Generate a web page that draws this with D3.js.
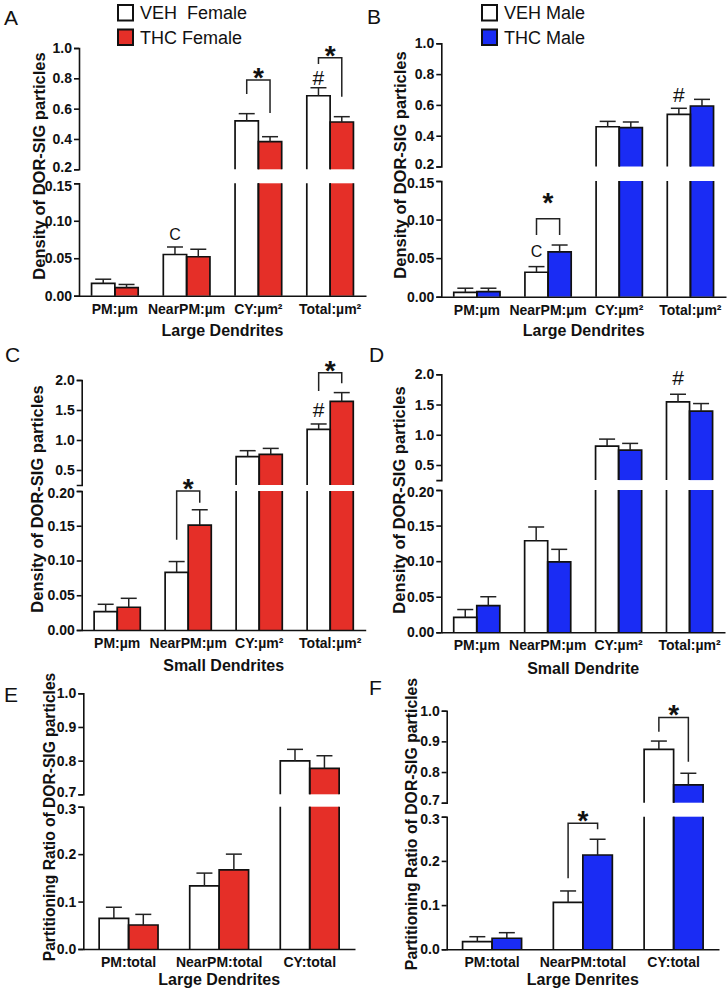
<!DOCTYPE html>
<html><head><meta charset="utf-8">
<script src="https://cdn.jsdelivr.net/npm/d3@7"></script>
<style>
body{margin:0;background:#fff;}
svg{display:block;font-family:"Liberation Sans",Arial,Helvetica,sans-serif;}
</style></head><body>
<svg id="fig" width="728" height="992"></svg>
<script>
// ---------------- DATA ----------------
const catsDensity = ["PM:µm", "NearPM:µm", "CY:µm²", "Total:µm²"];
const catsRatio = ["PM:total", "NearPM:total", "CY:total"];
const series = ["VEH", "THC"];
const legendFemale = ["VEH  Female", "THC Female"];
const legendMale = ["VEH Male", "THC Male"];

// A: Female, large dendrites (density)
const vehA = [0.0165, 0.055, 0.52, 0.685];
const vehAErr = [0.0055, 0.010, 0.047, 0.053];
const thcA = [0.0107, 0.052, 0.382, 0.512];
const thcAErr = [0.0043, 0.010, 0.033, 0.035];
// B: Male, large dendrites (density)
const vehB = [0.0057, 0.0317, 0.458, 0.539];
const vehBErr = [0.0053, 0.0073, 0.035, 0.039];
const thcB = [0.0065, 0.058, 0.452, 0.593];
const thcBErr = [0.0045, 0.009, 0.037, 0.043];
// C: Female, small dendrites (density)
const vehC = [0.0264, 0.083, 0.722, 1.178];
const vehCErr = [0.0106, 0.0155, 0.10, 0.089];
const thcC = [0.0327, 0.151, 0.76, 1.645];
const thcCErr = [0.0129, 0.022, 0.10, 0.145];
// D: Male, small dendrite (density)
const vehD = [0.021, 0.1287, 0.813, 1.543];
const vehDErr = [0.011, 0.0193, 0.115, 0.127];
const thcD = [0.0374, 0.099, 0.747, 1.39];
const thcDErr = [0.0126, 0.0176, 0.11, 0.126];
// E: Female, partitioning ratio
const vehE = [0.0647, 0.133, 0.799];
const vehEErr = [0.0233, 0.027, 0.0345];
const thcE = [0.0506, 0.1667, 0.777];
const thcEErr = [0.0224, 0.0333, 0.0375];
// F: Male, partitioning ratio
const vehF = [0.0172, 0.106, 0.874];
const vehFErr = [0.0113, 0.026, 0.027];
const thcF = [0.025, 0.2133, 0.758];
const thcFErr = [0.0126, 0.0357, 0.038];

// Axis ticks (broken axes: lower and upper segments)
const ticksLargeLower = [0, 0.05, 0.10, 0.15];
const ticksLargeUpper = [0.2, 0.4, 0.6, 0.8, 1.0];
const ticksSmallLower = [0, 0.05, 0.10, 0.15, 0.20];
const ticksSmallUpper = [0.5, 1.0, 1.5, 2.0];
const ticksRatioLower = [0, 0.1, 0.2, 0.3];
const ticksRatioUpper = [0.7, 0.8, 0.9, 1.0];

// Annotations (values in data units)
const bracketsA = [{cat: "CY:µm²", top: 0.789, left: 0.697, right: 0.571},
                   {cat: "Total:µm²", top: 0.936, left: 0.894, right: 0.679}];
const hashA = [{cat: "Total:µm²", s: "VEH", v: 0.753}];
const cA = [{cat: "NearPM:µm", s: "VEH", v: 0.0743}];
const bracketsB = [{cat: "NearPM:µm", top: 0.101, left: 0.080, right: 0.080, star: 0.131}];
const hashB = [{cat: "Total:µm²", s: "VEH", v: 0.622}];
const cB = [{cat: "NearPM:µm", s: "VEH", v: 0.052}];
const bracketsC = [{cat: "NearPM:µm", top: 0.2, left: 0.1297, right: 0.183},
                   {cat: "Total:µm²", top: 2.12, left: 1.817, right: 1.945}];
const hashC = [{cat: "Total:µm²", s: "VEH", v: 1.383}];
const hashD = [{cat: "Total:µm²", s: "VEH", v: 1.818}];
const bracketsF = [{cat: "NearPM:total", top: 0.285, left: 0.1606, right: 0.2715},
                   {cat: "CY:total", top: 0.978, left: 0.931, right: 0.8335}];

// ---------------- STYLE / LAYOUT ----------------
const RED = "#e52f28";
const BLUE = "#1a2cf4";
const INK = "#111";

const panels = [
  {letter: "A", lx: 4, ly: 25, cats: catsDensity, veh: vehA, vehErr: vehAErr, thc: thcA, thcErr: thcAErr, color: RED,
   x0: 79, x1: 366, lowDom: [0, 0.15], lowRange: [295.7, 183.3], upDom: [0.2, 1.0], upRange: [169.3, 48],
   lowTicks: ticksLargeLower, upTicks: ticksLargeUpper, lowFmt: ".2f", upFmt: ".1f",
   yTitle: "Density of DOR-SIG particles", ytx: 45, yty: 166, yts: 16.5,
   xTitle: "Large Dendrites", xty: 336, brackets: bracketsA, hashes: hashA, cs: cA,
   legend: legendFemale, legX: 118},
  {letter: "B", lx: 367, ly: 24, cats: catsDensity, veh: vehB, vehErr: vehBErr, thc: thcB, thcErr: thcBErr, color: BLUE,
   x0: 441.3, x1: 726, lowDom: [0, 0.15], lowRange: [296.7, 181], upDom: [0.2, 1.0], upRange: [166.5, 43.3],
   lowTicks: ticksLargeLower, upTicks: ticksLargeUpper, lowFmt: ".2f", upFmt: ".1f",
   yTitle: "Density of DOR-SIG particles", ytx: 406, yty: 165, yts: 16.5,
   xTitle: "Large Dendrites", xty: 336, brackets: bracketsB, hashes: hashB, cs: cB,
   legend: legendMale, legX: 482},
  {letter: "C", lx: 5, ly: 362, cats: catsDensity, veh: vehC, vehErr: vehCErr, thc: thcC, thcErr: thcCErr, color: RED,
   x0: 81.7, x1: 365.7, lowDom: [0, 0.2], lowRange: [630, 491], upDom: [0.25, 2.0], upRange: [485, 380],
   lowTicks: ticksSmallLower, upTicks: ticksSmallUpper, lowFmt: ".2f", upFmt: ".1f",
   yTitle: "Density of DOR-SIG particles", ytx: 43, yty: 499, yts: 16.5,
   xTitle: "Small Dendrites", xty: 671, brackets: bracketsC, hashes: hashC, cs: []},
  {letter: "D", lx: 369, ly: 362, cats: catsDensity, veh: vehD, vehErr: vehDErr, thc: thcD, thcErr: thcDErr, color: BLUE,
   x0: 441.3, x1: 725, lowDom: [0, 0.2], lowRange: [632.3, 490], upDom: [0.25, 2.0], upRange: [480.1, 374.3],
   lowTicks: ticksSmallLower, upTicks: ticksSmallUpper, lowFmt: ".2f", upFmt: ".1f",
   yTitle: "Density of DOR-SIG particles", ytx: 404.7, yty: 500, yts: 16.5,
   xTitle: "Small Dendrite", xty: 674, brackets: [], hashes: hashD, cs: []},
  {letter: "E", lx: 4, ly: 702, cats: catsRatio, veh: vehE, vehErr: vehEErr, thc: thcE, thcErr: thcEErr, color: RED,
   x0: 83.3, x1: 355, lowDom: [0, 0.3], lowRange: [949, 806.7], upDom: [0.7, 1.0], upRange: [794.3, 693.3],
   lowTicks: ticksRatioLower, upTicks: ticksRatioUpper, lowFmt: ".1f", upFmt: ".1f",
   yTitle: "Partitioning Ratio of DOR-SIG particles", ytx: 54.5, yty: 817, yts: 15.6,
   xTitle: "Large Dendrites", xty: 985, brackets: [], hashes: [], cs: []},
  {letter: "F", lx: 369, ly: 695, cats: catsRatio, veh: vehF, vehErr: vehFErr, thc: thcF, thcErr: thcFErr, color: BLUE,
   x0: 446.7, x1: 719, lowDom: [0, 0.3], lowRange: [949.3, 816.7], upDom: [0.7, 1.0], upRange: [802.7, 710.7],
   lowTicks: ticksRatioLower, upTicks: ticksRatioUpper, lowFmt: ".1f", upFmt: ".1f",
   yTitle: "Partitioning Ratio of DOR-SIG particles", ytx: 416.7, yty: 824, yts: 15.8,
   xTitle: "Large Denrites", xty: 985, brackets: bracketsF, hashes: [], cs: []}
];

const svg = d3.select("#fig");

function drawPanel(p) {
  const g = svg.append("g");
  const x = d3.scaleBand().domain(p.cats).range([p.x0, p.x1]).paddingInner(0.35).paddingOuter(0.175);
  const xs = d3.scaleBand().domain(series).range([0, x.bandwidth()]);
  const low = d3.scaleLinear().domain(p.lowDom).range(p.lowRange);
  const up = d3.scaleLinear().domain(p.upDom).range(p.upRange);
  const lowMax = p.lowDom[1], upMin = p.upDom[0];
  const y = v => v <= lowMax ? low(v) : up(v);
  const fillOf = s => s === "VEH" ? "#fff" : p.color;
  const cx = (c, s) => x(c) + xs(s) + xs.bandwidth() / 2;

  const rows = p.cats.flatMap((c, i) => [
    {c, s: "VEH", v: p.veh[i], e: p.vehErr[i]},
    {c, s: "THC", v: p.thc[i], e: p.thcErr[i]}
  ]);
  const segs = [];
  rows.forEach(r => {
    if (r.v <= lowMax) segs.push({r, y0: low(0), y1: low(r.v), top: true});
    else {
      segs.push({r, y0: low(0), y1: low(lowMax), top: false});
      segs.push({r, y0: up(upMin), y1: up(r.v), top: true});
    }
  });
  const w = xs.bandwidth();
  g.selectAll("rect.bar").data(segs).join("rect").attr("class", "bar")
    .attr("x", d => x(d.r.c) + xs(d.r.s)).attr("width", w)
    .attr("y", d => d.y1).attr("height", d => d.y0 - d.y1)
    .attr("fill", d => fillOf(d.r.s));
  g.selectAll("path.outline").data(segs).join("path").attr("class", "outline")
    .attr("d", d => {
      const bx = x(d.r.c) + xs(d.r.s);
      return `M${bx},${d.y0}V${d.y1}` + (d.top ? `H${bx + w}` : `M${bx + w},${d.y1}`) + `V${d.y0}`;
    })
    .attr("fill", "none").attr("stroke", INK).attr("stroke-width", 1.7);

  // error bars (upper whisker only)
  const eb = g.selectAll("g.err").data(rows).join("g").attr("class", "err")
    .attr("stroke", "#222").attr("stroke-width", 1.5);
  eb.append("line").attr("x1", d => cx(d.c, d.s)).attr("x2", d => cx(d.c, d.s))
    .attr("y1", d => y(d.v)).attr("y2", d => y(d.v + d.e));
  eb.append("line").attr("x1", d => cx(d.c, d.s) - 8).attr("x2", d => cx(d.c, d.s) + 8)
    .attr("y1", d => y(d.v + d.e)).attr("y2", d => y(d.v + d.e));

  // axes
  const styleAxis = sel => {
    sel.selectAll(".domain").attr("stroke", INK).attr("stroke-width", 1.6);
    sel.selectAll(".tick line").attr("stroke", INK).attr("stroke-width", 1.6);
    sel.selectAll("text").attr("font-size", 14).attr("font-weight", "bold").attr("fill", INK)
      .attr("font-family", "'Liberation Sans',Arial,sans-serif");
  };
  const close = (p.lowRange[1] - p.upRange[0]) < 17;
  g.append("g").attr("transform", `translate(${p.x0},0)`)
    .call(d3.axisLeft(low).tickValues(p.lowTicks).tickFormat(d3.format(p.lowFmt)).tickSize(5).tickSizeOuter(5).tickPadding(2))
    .call(styleAxis)
    .selectAll(".tick text").filter(d => close && Math.abs(d - lowMax) < 1e-9).attr("y", 2.5);
  g.append("g").attr("transform", `translate(${p.x0},0)`)
    .call(d3.axisLeft(up).tickValues(p.upTicks).tickFormat(d3.format(p.upFmt)).tickSize(5).tickSizeOuter(5).tickPadding(2))
    .call(styleAxis)
    .selectAll(".tick text").filter(d => close && Math.abs(d - upMin) < 1e-9).attr("y", -2.5);
  g.append("g").attr("transform", `translate(0,${low(0)})`)
    .call(d3.axisBottom(x).tickSize(0).tickSizeOuter(0).tickPadding(8))
    .call(styleAxis);

  // titles
  g.append("text").attr("transform", `translate(${p.ytx},${p.yty}) rotate(-90)`)
    .attr("text-anchor", "middle").attr("font-size", p.yts).attr("font-weight", "bold").attr("fill", INK)
    .text(p.yTitle);
  g.append("text").attr("x", (p.x0 + p.x1) / 2).attr("y", p.xty).attr("text-anchor", "middle")
    .attr("font-size", 16).attr("font-weight", "bold").attr("fill", INK).text(p.xTitle);
  g.append("text").attr("x", p.lx).attr("y", p.ly).attr("font-size", 21).attr("fill", INK).text(p.letter);

  // brackets with stars
  p.brackets.forEach(b => {
    const xl = cx(b.cat, "VEH"), xr = cx(b.cat, "THC");
    const yt = y(b.top);
    g.append("path").attr("d", `M${xl},${y(b.left)}V${yt}H${xr}V${y(b.right)}`)
      .attr("fill", "none").attr("stroke", "#222").attr("stroke-width", 1.5);
    const yc = b.star !== undefined ? y(b.star) : yt - 9;
    g.append("text").attr("x", (xl + xr) / 2).attr("y", yc + 16).attr("text-anchor", "middle")
      .attr("font-size", 28).attr("font-weight", "bold").attr("fill", INK).text("*");
  });
  p.hashes.forEach(h => {
    g.append("text").attr("x", cx(h.cat, h.s)).attr("y", y(h.v)).attr("text-anchor", "middle")
      .attr("font-size", 21).attr("fill", INK).text("#");
  });
  p.cs.forEach(h => {
    g.append("text").attr("x", cx(h.cat, h.s)).attr("y", y(h.v)).attr("text-anchor", "middle")
      .attr("font-size", 16).attr("fill", INK).text("C");
  });

  // legend
  if (p.legend) {
    const lg = g.append("g");
    p.legend.forEach((t, i) => {
      const yy = 5 + i * 24.5;
      lg.append("rect").attr("x", p.legX).attr("y", yy).attr("width", 15).attr("height", 15.5)
        .attr("fill", i === 0 ? "#fff" : p.color).attr("stroke", INK).attr("stroke-width", 2);
      lg.append("text").attr("x", p.legX + 22).attr("y", yy + 14).attr("font-size", 18).attr("fill", INK)
        .attr("xml:space", "preserve").style("white-space", "pre").text(t);
    });
  }
}

panels.forEach(drawPanel);
</script>
</body></html>
